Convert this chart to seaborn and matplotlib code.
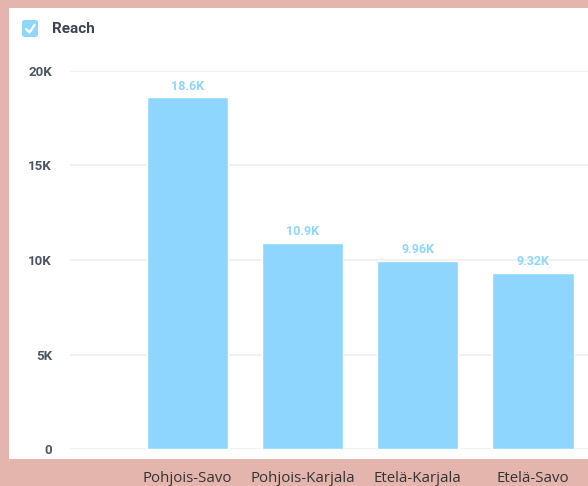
import numpy as np
import pandas as pd
import matplotlib
matplotlib.use("Agg")
import matplotlib.pyplot as plt
from matplotlib.patches import Rectangle, FancyBboxPatch
from matplotlib.lines import Line2D
import seaborn as sns

# data
regions = ["Pohjois-Savo", "Pohjois-Karjala", "Etelä-Karjala", "Etelä-Savo"]
reach = [18600, 10900, 9960, 9320]
value_labels = ["18.6K", "10.9K", "9.96K", "9.32K"]
y_ticks = [0, 5000, 10000, 15000, 20000]
y_tick_labels = ["0", "5K", "10K", "15K", "20K"]

bar_color = "#8fd6ff"
pink = "#e3b5ad"

sns.set_theme(style="white")
plt.rcParams["font.family"] = ["Roboto", "DejaVu Sans"]

df = pd.DataFrame({"region": regions, "reach": reach})

W, H = 588, 486
fig = plt.figure(figsize=(W / 100, H / 100), dpi=100, facecolor=pink)

# white card behind the chart
fig.patches.append(Rectangle((9 / W, 1 - 459 / H), 1.0, (459 - 8) / H,
                             transform=fig.transFigure, facecolor="white",
                             edgecolor="none", zorder=-5))

ax = fig.add_axes([70 / W, 1 - 449 / H, 1 - 70 / W, (449 - 71) / H])
ax.set_zorder(1)
ax.set_facecolor("none")

sns.barplot(data=df, x="region", y="reach", color=bar_color, width=0.71,
            saturation=1, ax=ax, zorder=3)

ax.set_xlim(-1.02, 3.48)
ax.set_ylim(0, 20000)
ax.set_yticks(y_ticks)
ax.set_yticklabels(y_tick_labels)
ax.yaxis.grid(True, color="#efefef", linewidth=1.2, zorder=0)
ax.set_axisbelow(True)
for s in ax.spines.values():
    s.set_visible(False)
ax.set_xlabel("")
ax.set_ylabel("")
ax.tick_params(axis="y", length=0, pad=13, labelsize=9.5, labelcolor="#4d5563")
ax.tick_params(axis="x", length=0, pad=16, labelsize=10.8, labelcolor="#333333")
for lab in ax.get_yticklabels():
    lab.set_fontweight("bold")
for lab in ax.get_xticklabels():
    lab.set_fontfamily(["Open Sans", "DejaVu Sans"])

# value labels above bars
for i, (v, t) in enumerate(zip(reach, value_labels)):
    ax.annotate(t, (i, v), xytext=(0, 3.5), textcoords="offset points",
                ha="center", va="bottom", fontsize=9, fontweight="bold",
                color=bar_color)

# legend-like header: checkbox + "Reach"
fig.patches.append(FancyBboxPatch((22 / W, 1 - 37 / H), 16 / W, 17 / H,
                                  boxstyle="round,pad=0,rounding_size=0.005",
                                  transform=fig.transFigure,
                                  facecolor=bar_color, edgecolor="none", zorder=2))
fig.lines.append(Line2D([26 / W, 29.5 / W, 34.5 / W],
                        [1 - 29 / H, 1 - 32.5 / H, 1 - 25 / H],
                        transform=fig.transFigure, color="white",
                        linewidth=1.7, zorder=3))
fig.text(52 / W, 1 - 29 / H, "Reach", ha="left", va="center",
         fontsize=11, fontweight="bold", color="#3d4451")

fig.savefig("out.png", dpi=100, facecolor=pink)
